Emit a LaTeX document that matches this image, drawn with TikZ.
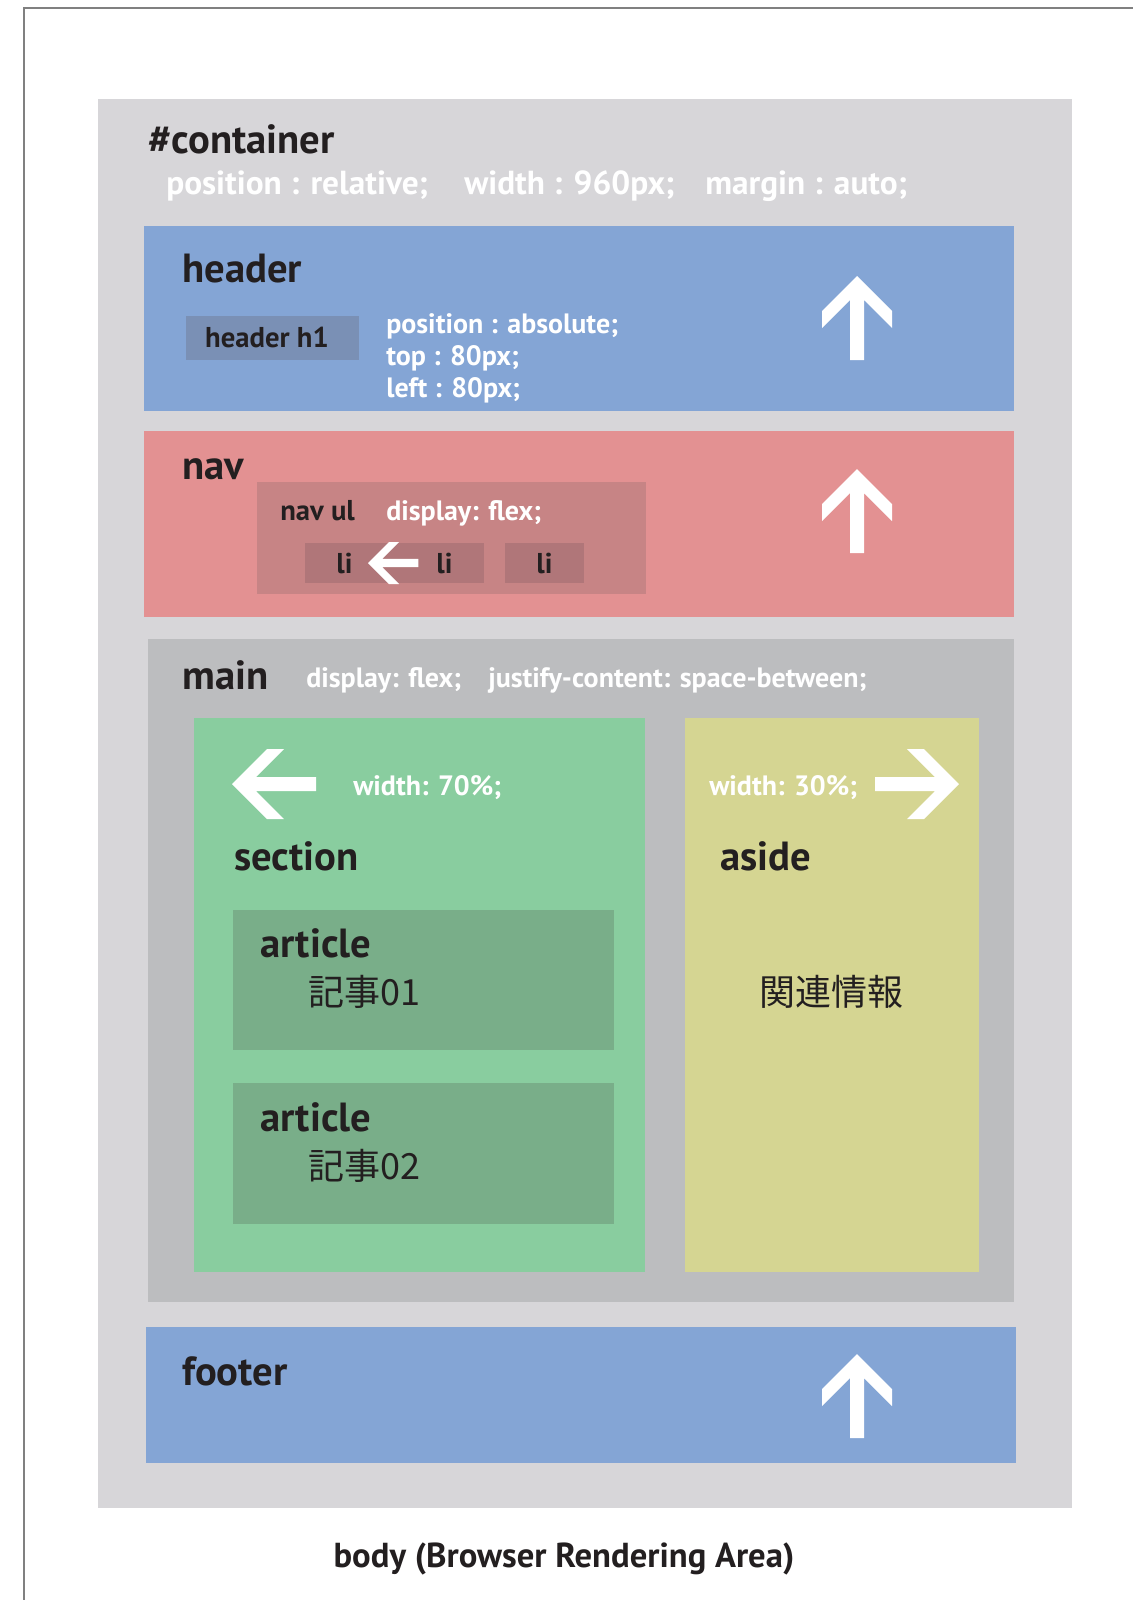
\documentclass[tikz,border=0pt]{standalone}
\usepackage{fontspec}
\setmainfont{PT Sans}
\newfontfamily\jpfont{Noto Sans CJK JP}
\usetikzlibrary{positioning}
\definecolor{ink}{HTML}{231F20}
\definecolor{framegray}{HTML}{808080}
\definecolor{contgray}{HTML}{D7D6D9}
\definecolor{hdrblue}{HTML}{84A5D5}
\definecolor{hblue}{HTML}{7A90B5}
\definecolor{navred}{HTML}{E39192}
\definecolor{ulred}{HTML}{C78485}
\definecolor{lired}{HTML}{B07679}
\definecolor{maingray}{HTML}{BCBDBF}
\definecolor{sectgreen}{HTML}{89CD9F}
\definecolor{artgreen}{HTML}{79AE89}
\definecolor{asideyellow}{HTML}{D5D592}
\newcommand\drawpanel[3]{%
    \fill [#1] #2 rectangle #3}
\newcommand\drawarrow[3]{%
    \fill [white,shift={#1},rotate=#2,scale=#3] (0,0) -- (-35,35) -- (-35,52) -- (-7,24) -- (-7,84) -- (7,84) -- (7,24) -- (35,52) -- (35,35) -- cycle}

\begin{document}
\begin{tikzpicture}[x=0.75pt,y=-0.75pt,
    title/.style={anchor=base west,inner sep=0,text=ink,font=\bfseries\fontsize{30.5}{32}\selectfont},
    prop/.style={anchor=base west,inner sep=0,text=white,font=\bfseries\fontsize{21}{25}\selectfont},
    bigprop/.style={prop,font=\bfseries\fontsize{25}{29}\selectfont},
    tag/.style={anchor=base,inner sep=0,text=ink,font=\bfseries\fontsize{21.5}{25}\selectfont},
    jp/.style={anchor=base west,inner sep=0,text=ink,font=\jpfont\fontsize{27}{30}\selectfont}]
    \useasboundingbox (0,0) rectangle (1133,1600);
    \fill [white] (0,0) rectangle (1133,1600);
    \draw [framegray,line width=1.5pt] (23.5,1600) -- (23.5,8) -- (1133,8);

    % container
    \drawpanel{contgray}{(98,99)}{(1072,1508)};
    \node [title] (cont) at (148,153) {\#container};
    \node [bigprop] (relative) at (166,194) {position : relative;};
    \node [bigprop] (width) at (464,194) {width : 960px;};
    \node [bigprop] (margin) at (705,194) {margin : auto;};

    % header
    \drawpanel{hdrblue}{(144,225.5)}{(1013.5,411)};
    \node [title] (header) at (182,282) {header};
    \drawpanel{hblue}{(186,316)}{(359,360)};
    \node [tag] (h1) at (267,347) {header h1};
    \node [prop] (absolute) at (386,333) {position : absolute;};
    \node [prop] (top) at (386,365) {top : 80px;};
    \node [prop] (left) at (386,397) {left : 80px;};
    \drawarrow{(857,276)}{0}{1};

    % nav
    \drawpanel{navred}{(144,431)}{(1013.5,616.5)};
    \node [title] (nav) at (182,479) {nav};
    \drawpanel{ulred}{(257,482)}{(646,594)};
    \node [tag,anchor=base west] (ul) at (280,520) {nav ul};
    \node [prop] (navflex) at (386,520) {display: flex;};
    \drawpanel{lired}{(305,543)}{(405,583)};
    \drawpanel{lired}{(405,543)}{(484,583)};
    \drawpanel{lired}{(505,543)}{(584,583)};
    \node [tag] (li1) at (344.5,573) {li};
    \node [tag] (li2) at (444.5,573) {li};
    \node [tag] (li3) at (544.5,573) {li};
    \drawarrow{(368,563)}{90}{0.6};
    \drawarrow{(857,469)}{0}{1};

    % main
    \drawpanel{maingray}{(148,639)}{(1013.5,1302)};
    \node [title] (main) at (182,689) {main};
    \node [prop] (mainflex) at (306,687) {display: flex;};
    \node [prop] (justify) at (488,687) {justify-content: space-between;};

    % section
    \drawpanel{sectgreen}{(194,718)}{(645,1272)};
    \drawarrow{(232,784)}{90}{1};
    \node [prop] (w70) at (353,795) {width: 70\%;};
    \node [title] (section) at (234,870) {section};
    \drawpanel{artgreen}{(233,909.5)}{(613.5,1050)};
    \node [title] (art1) at (260,957.5) {article};
    \node [jp] (kiji1) at (308,1005) {記事01};
    \drawpanel{artgreen}{(233,1083)}{(613.5,1224)};
    \node [title] (art2) at (260,1131) {article};
    \node [jp] (kiji2) at (308,1179) {記事02};

    % aside
    \drawpanel{asideyellow}{(685,718)}{(979,1272)};
    \node [prop] (w30) at (709,795) {width: 30\%;};
    \drawarrow{(959,784)}{-90}{1};
    \node [title] (aside) at (720,870) {aside};
    \node [jp,anchor=base] (kanren) at (831,1005) {関連情報};

    % footer
    \drawpanel{hdrblue}{(146,1327)}{(1015.5,1463)};
    \node [title] (footer) at (182,1385) {footer};
    \drawarrow{(857,1354)}{0}{1};

    \node [tag,font=\bfseries\fontsize{26}{30}\selectfont] (body) at (564,1567) {body (Browser Rendering Area)};
\end{tikzpicture}
\end{document}
